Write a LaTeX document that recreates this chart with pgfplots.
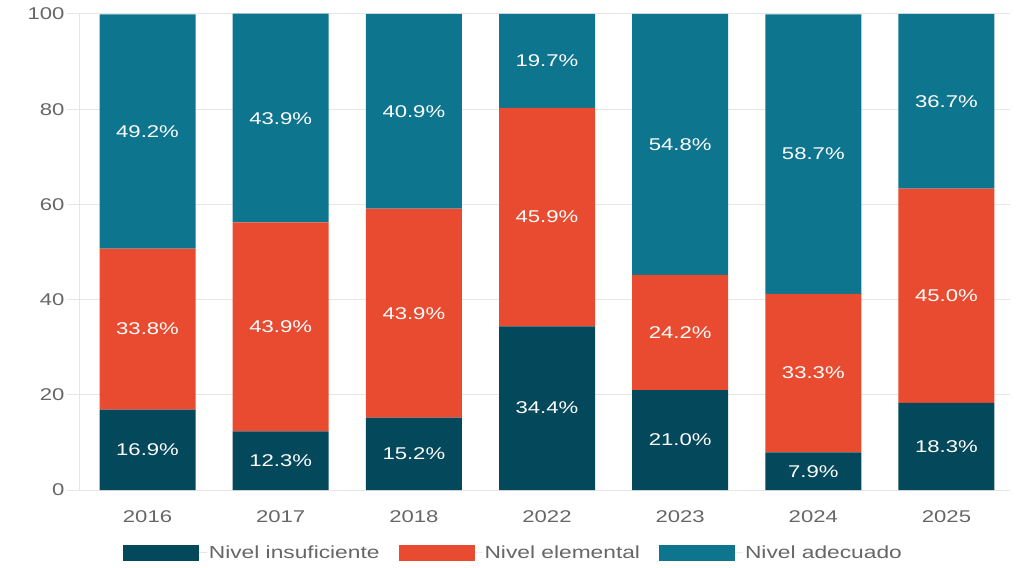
\documentclass[border=0pt]{standalone}
\usepackage{pgfplots}
\pgfplotsset{compat=1.18}
\usepackage{pgfplotstable}
\usepackage{fontspec}
\setmainfont{Liberation Sans}[FakeStretch=1.3]
\definecolor{cIns}{HTML}{03485B}
\definecolor{cEle}{HTML}{E84B2F}
\definecolor{cAde}{HTML}{0E758F}
\definecolor{cTick}{HTML}{666666}
\definecolor{cGrid}{HTML}{E6E6E6}
\pgfplotsset{/pgf/number format/assume math mode=true}
\pgfplotstableread{
x ins ele ade
0 16.9 33.8 49.2
1 12.3 43.9 43.9
2 15.2 43.9 40.9
3 34.4 45.9 19.7
4 21.0 24.2 54.8
5 7.9 33.3 58.7
6 18.3 45.0 36.7
}\bars
\pgfplotstableread{
x y v
0 8.45 16.9
0 33.8 33.8
0 75.35 49.2
1 6.15 12.3
1 34.25 43.9
1 78.1 43.9
2 7.6 15.2
2 37.15 43.9
2 79.55 40.9
3 17.2 34.4
3 57.35 45.9
3 90.15 19.7
4 10.5 21.0
4 33.1 24.2
4 72.6 54.8
5 3.95 7.9
5 24.55 33.3
5 70.6 58.7
6 9.15 18.3
6 40.8 45.0
6 81.65 36.7
}\labs
\begin{document}
\begin{tikzpicture}
\begin{axis}[
  at={(0,0)}, anchor=south west,
  scale only axis, width=930bp, height=476bp,
  ybar stacked, bar width=96bp,
  xmin=-0.507, xmax=6.477, ymin=0, ymax=100,
  xtick={0,...,6},
  xticklabels={2016,2017,2018,2022,2023,2024,2025},
  ytick={0,20,...,100},
  axis x line*=bottom, axis y line*=left,
  axis line style={cGrid, line width=1bp, -},
  ymajorgrids, grid style={cGrid, line width=1bp},
  tick align=outside, major tick length=13bp,
  ytick style={cGrid, line width=1bp},
  xtick style={draw=none},
  ticklabel style={font=\fontsize{17bp}{20bp}\selectfont, text=cTick},
  xticklabel style={yshift=-4bp},
  yticklabel style={xshift=1bp},
  legend columns=3,
  legend style={at={(0.466,-0.132)}, anchor=center, draw=none, fill=none,
    font=\fontsize{17.5bp}{20bp}\selectfont, text=cTick,
    /tikz/every even column/.append style={column sep=17bp}},
  legend image code/.code={\draw[#1,draw=none] (0bp,-8bp) rectangle (76bp,8bp);
    \path (0bp,0bp) -- (84bp,0bp);},
]
\addplot[fill=cIns, draw=none] table[x=x, y=ins]{\bars};
\addplot[fill=cEle, draw=none] table[x=x, y=ele]{\bars};
\addplot[fill=cAde, draw=none] table[x=x, y=ade]{\bars};
\legend{Nivel insuficiente, Nivel elemental, Nivel adecuado}
\end{axis}
\begin{axis}[
  at={(0,0)}, anchor=south west,
  scale only axis, width=930bp, height=476bp,
  xmin=-0.507, xmax=6.477, ymin=0, ymax=100,
  hide axis,
]
\addplot[draw=none, mark=none, point meta=explicit,
  nodes near coords={\pgfmathprintnumber[fixed,fixed zerofill,precision=1]{\pgfplotspointmeta}\%},
  every node near coord/.append style={anchor=center, text=white, font=\fontsize{17bp}{20bp}\selectfont, inner sep=0pt},
] table[x=x, y=y, meta=v]{\labs};
\end{axis}
\pgfresetboundingbox
\path[use as bounding box] (-80bp,-78bp) rectangle (939bp,490bp);
\end{tikzpicture}
\end{document}
